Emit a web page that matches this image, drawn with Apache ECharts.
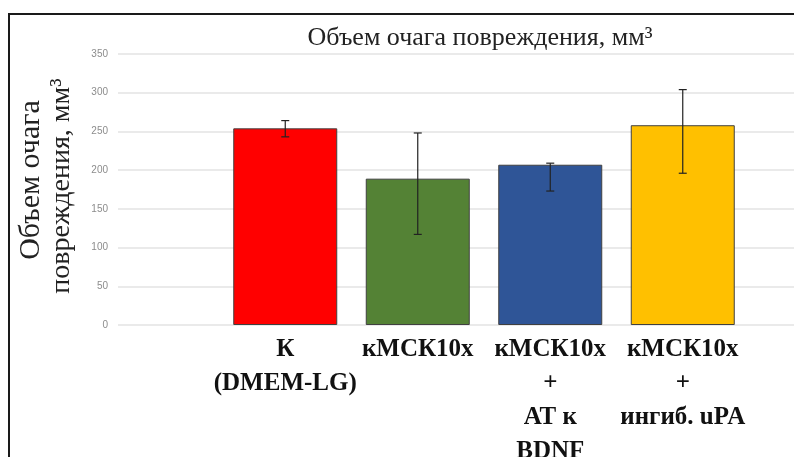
<!DOCTYPE html>
<html>
<head>
<meta charset="utf-8">
<script src="https://cdn.jsdelivr.net/npm/echarts@6/dist/echarts.min.js"></script>
<style>
html,body{margin:0;padding:0;background:#fff;}
#chart{width:794px;height:457px;}
</style>
</head>
<body>
<div id="chart"></div>
<script>
// ---- data ----
const categories = ['К\n(DMEM-LG)', 'кМСК10х', 'кМСК10х\n+\nАТ к\nBDNF', 'кМСК10х\n+\nингиб. uPA'];
const values = [254, 189, 207, 258];
const errLow = [243, 117, 173, 196];
const errHigh = [264, 248, 209, 304];
const barColors = ['#FF0000', '#548235', '#2F5597', '#FFC000'];
const yTicks = { min: 0, max: 350, interval: 50 };
const titleText = 'Объем очага повреждения, мм³';
const yTitleLines = ['Объем очага', 'повреждения, мм³'];

const chart = echarts.init(document.getElementById('chart'), null, { renderer: 'canvas' });

const errData = values.map((v, i) => [i, errLow[i], errHigh[i]]);

const option = {
  backgroundColor: '#ffffff',
  animation: false,
  title: {
    text: titleText,
    left: 475,
    top: 20,
    textAlign: 'center',
    textStyle: { fontFamily: 'Liberation Serif', fontSize: 26, fontWeight: 'normal', color: '#222' }
  },
  grid: [
    { left: 118, right: 0, top: 54, bottom: 132, containLabel: false, outerBoundsMode: 'none' },
    { left: 219, width: 530, top: 54, bottom: 132, containLabel: false, outerBoundsMode: 'none' }
  ],
  xAxis: [
    { gridIndex: 0, type: 'value', min: 0, max: 1, show: false },
    {
      gridIndex: 1, type: 'category', data: categories,
      axisLine: { show: false }, axisTick: { show: false },
      axisLabel: {
        interval: 0, margin: 8,
        fontFamily: 'Liberation Serif', fontWeight: 'bold', fontSize: 25,
        lineHeight: 34, color: '#111'
      }
    }
  ],
  yAxis: [
    {
      gridIndex: 0, type: 'value', min: yTicks.min, max: yTicks.max, interval: yTicks.interval,
      axisLine: { show: false }, axisTick: { show: false },
      axisLabel: { fontFamily: 'Liberation Sans', fontSize: 10, color: '#8c8c8c', margin: 10 },
      splitLine: { lineStyle: { color: '#e3e3e3', width: 1.5 } }
    },
    {
      gridIndex: 1, type: 'value', min: yTicks.min, max: yTicks.max, interval: yTicks.interval,
      show: false, splitLine: { show: false }
    }
  ],
  series: [
    {
      type: 'bar', xAxisIndex: 1, yAxisIndex: 1,
      barWidth: 104,
      data: values.map((v, i) => ({
        value: v,
        itemStyle: { color: barColors[i], borderColor: '#404040', borderWidth: 1 }
      }))
    },
    {
      type: 'custom', xAxisIndex: 1, yAxisIndex: 1,
      data: errData,
      z: 10,
      renderItem: function (params, api) {
        const x = api.value(0);
        const lo = api.coord([x, api.value(1)]);
        const hi = api.coord([x, api.value(2)]);
        const cap = 4;
        const style = { stroke: '#222', lineWidth: 1.2 };
        return {
          type: 'group',
          children: [
            { type: 'line', shape: { x1: lo[0], y1: lo[1], x2: hi[0], y2: hi[1] }, style: style },
            { type: 'line', shape: { x1: hi[0] - cap, y1: hi[1], x2: hi[0] + cap, y2: hi[1] }, style: style },
            { type: 'line', shape: { x1: lo[0] - cap, y1: lo[1], x2: lo[0] + cap, y2: lo[1] }, style: style }
          ]
        };
      }
    }
  ],
  graphic: [
    { type: 'polyline', shape: { points: [[9, 457], [9, 14], [794, 14]] }, style: { stroke: '#1a1a1a', lineWidth: 2, fill: null } },
    {
      type: 'text', x: 31, y: 180, rotation: Math.PI / 2,
      style: { text: yTitleLines[0], fontFamily: 'Liberation Serif', fontSize: 30, fill: '#222', align: 'center', verticalAlign: 'middle' }
    },
    {
      type: 'text', x: 62, y: 186, rotation: Math.PI / 2,
      style: { text: yTitleLines[1], fontFamily: 'Liberation Serif', fontSize: 28, fill: '#222', align: 'center', verticalAlign: 'middle' }
    }
  ]
};
chart.setOption(option);
</script>
</body>
</html>
